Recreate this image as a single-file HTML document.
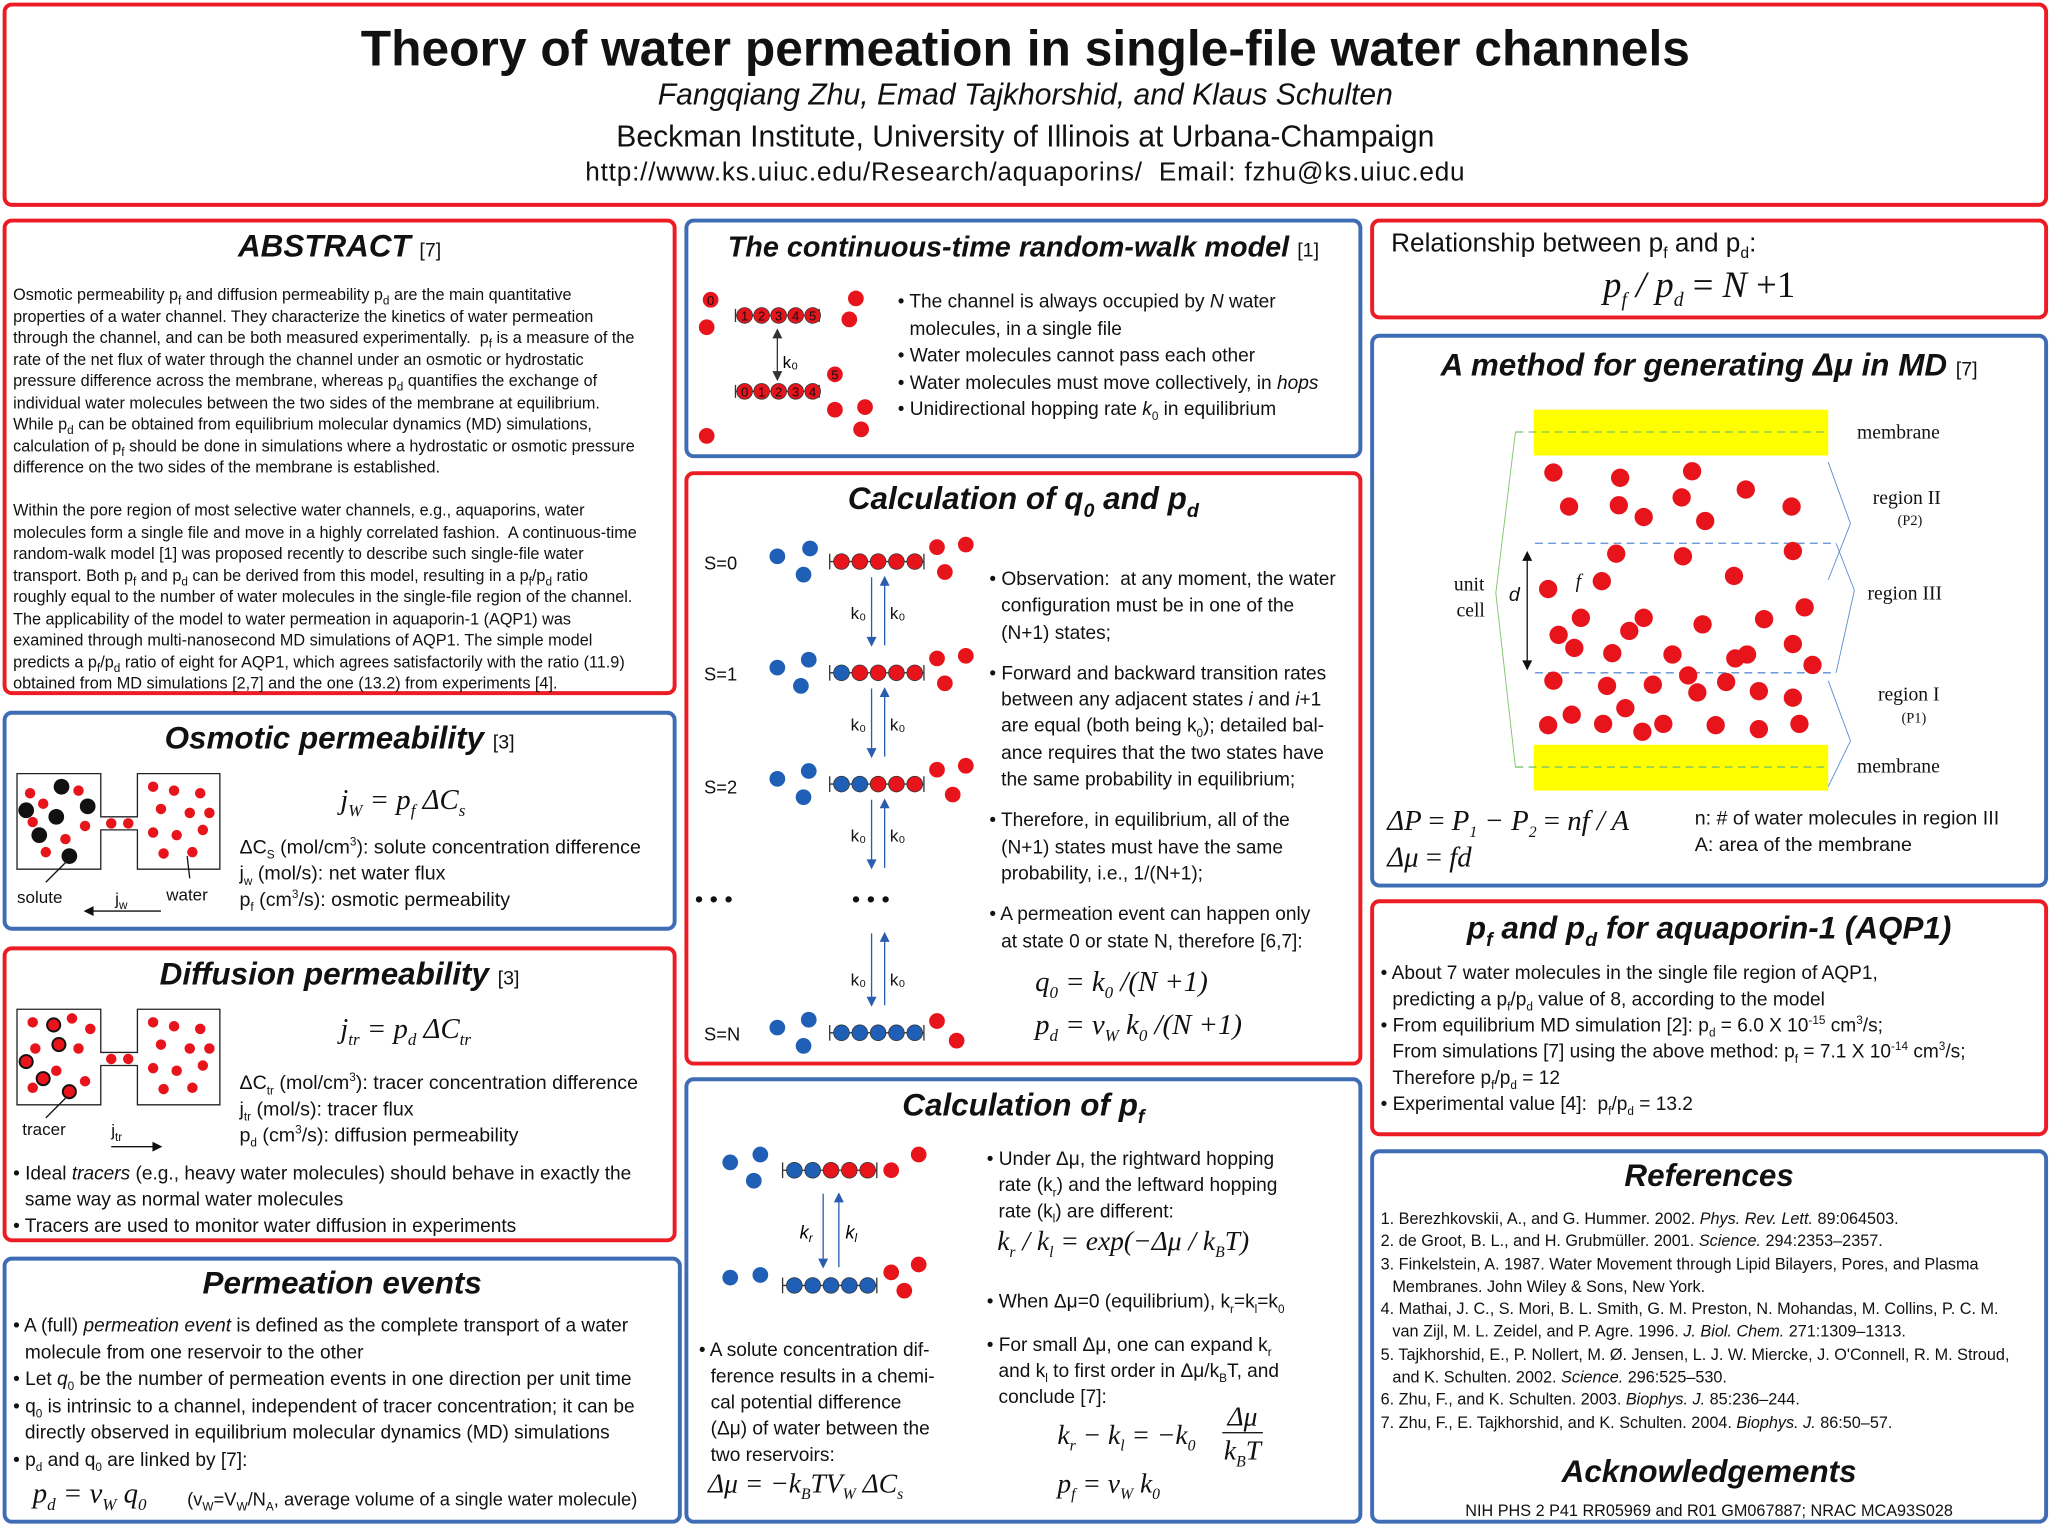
<!DOCTYPE html>
<html><head><meta charset="utf-8"><style>
html,body{margin:0;padding:0;background:#fff;width:2052px;height:1525px;overflow:hidden}
#w{position:absolute;left:0;top:0;width:1568px;height:1165px;transform:scale(1.30867,1.309);transform-origin:0 0;font-family:"Liberation Sans",sans-serif;color:#111}
.p{position:absolute;border:3.5px solid #ec1c24;border-radius:7px;box-sizing:border-box;background:#fff}
.b{border-color:#3f6db5}
.h{position:absolute;left:0;right:0;text-align:center;font-weight:bold;font-style:italic;font-size:24px;white-space:nowrap}
.h small{font-weight:normal;font-style:normal;font-size:15px}
.t{position:absolute;font-size:15px;line-height:20px;white-space:nowrap}
.i{padding-left:9px}
.m{font-family:"Liberation Serif",serif;font-style:italic}
svg{position:absolute;left:0;top:0;overflow:visible}
sub,sup{font-size:9px;line-height:0}
</style></head><body><div id="w">

<div class="p" style="left:2px;top:2px;width:1563px;height:156px">
<div style="position:absolute;left:0;right:0;top:12px;text-align:center;font-size:38px;font-weight:bold">Theory of water permeation in single-file water channels</div>
<div style="position:absolute;left:0;right:0;top:54px;text-align:center;font-size:23px;font-style:italic">Fangqiang Zhu, Emad Tajkhorshid, and Klaus Schulten</div>
<div style="position:absolute;left:0;right:0;top:86px;text-align:center;font-size:23px">Beckman Institute, University of Illinois at Urbana-Champaign</div>
<div style="position:absolute;left:0;right:0;top:116px;text-align:center;font-size:20px;letter-spacing:0.6px">http://www.ks.uiuc.edu/Research/aquaporins/&nbsp; Email: fzhu@ks.uiuc.edu</div>
</div>

<div class="p" style="left:2px;top:167px;width:515px;height:364px">
<div class="h" style="top:5px">ABSTRACT <small>[7]</small></div>
<div class="t" style="left:5px;top:47px;font-size:12.4px;line-height:16.5px">Osmotic permeability p<sub>f</sub> and diffusion permeability p<sub>d</sub> are the main quantitative<br>properties of a water channel. They characterize the kinetics of water permeation<br>through the channel, and can be both measured experimentally.&nbsp; p<sub>f</sub> is a measure of the<br>rate of the net flux of water through the channel under an osmotic or hydrostatic<br>pressure difference across the membrane, whereas p<sub>d</sub> quantifies the exchange of<br>individual water molecules between the two sides of the membrane at equilibrium.<br>While p<sub>d</sub> can be obtained from equilibrium molecular dynamics (MD) simulations,<br>calculation of p<sub>f</sub> should be done in simulations where a hydrostatic or osmotic pressure<br>difference on the two sides of the membrane is established.<br><br>Within the pore region of most selective water channels, e.g., aquaporins, water<br>molecules form a single file and move in a highly correlated fashion.&nbsp; A continuous-time<br>random-walk model [1] was proposed recently to describe such single-file water<br>transport. Both p<sub>f</sub> and p<sub>d</sub> can be derived from this model, resulting in a p<sub>f</sub>/p<sub>d</sub> ratio<br>roughly equal to the number of water molecules in the single-file region of the channel.<br>The applicability of the model to water permeation in aquaporin-1 (AQP1) was<br>examined through multi-nanosecond MD simulations of AQP1. The simple model<br>predicts a p<sub>f</sub>/p<sub>d</sub> ratio of eight for AQP1, which agrees satisfactorily with the ratio (11.9)<br>obtained from MD simulations [2,7] and the one (13.2) from experiments [4].</div>
</div>

<div class="p b" style="left:2px;top:543px;width:515px;height:168px">
<div class="h" style="top:5px">Osmotic permeability <small>[3]</small></div>
<svg width="515" height="168"><g stroke="#222" fill="none" stroke-width="1"><path d="M8 45 H72 V78 H100 V45 H163 V118 H100 V88 H72 V118 H8 Z"/></g>
<g fill="#e8141c"><circle cx="18" cy="60" r="4"/><circle cx="28" cy="68" r="4"/><circle cx="55" cy="58" r="4"/><circle cx="20" cy="82" r="4"/><circle cx="45" cy="95" r="4"/><circle cx="60" cy="85" r="4"/><circle cx="30" cy="105" r="4"/><circle cx="80" cy="83" r="4"/><circle cx="93" cy="83" r="4"/><circle cx="112" cy="55" r="4"/><circle cx="128" cy="58" r="4"/><circle cx="148" cy="60" r="4"/><circle cx="118" cy="72" r="4"/><circle cx="140" cy="75" r="4"/><circle cx="112" cy="90" r="4"/><circle cx="130" cy="92" r="4"/><circle cx="150" cy="88" r="4"/><circle cx="120" cy="106" r="4"/><circle cx="142" cy="105" r="4"/><circle cx="155" cy="75" r="4"/></g>
<g fill="#111"><circle cx="42" cy="55" r="6"/><circle cx="15" cy="73" r="6"/><circle cx="38" cy="78" r="6"/><circle cx="62" cy="70" r="6"/><circle cx="25" cy="92" r="6"/><circle cx="48" cy="108" r="6"/></g>
<path d="M45 113 L30 128 M138 108 L140 125" stroke="#111"/><path d="M118 150 H60 M60 150 l6 -3 v6z" stroke="#111" fill="#111"/></svg>
<div class="t" style="left:8px;top:130px;font-size:13px">solute</div><div class="t" style="left:122px;top:128px;font-size:13px">water</div><div class="t" style="left:83px;top:131px;font-size:13px">j<sub>w</sub></div>
<div class="t m" style="left:255px;top:55px;font-size:22px">j<sub style="font-size:13px">W</sub> = p<sub style="font-size:13px">f</sub> ΔC<sub style="font-size:13px">s</sub></div>
<div class="t" style="left:178px;top:92px;line-height:20px">ΔC<sub>S</sub> (mol/cm<sup>3</sup>): solute concentration difference<br>j<sub>w</sub> (mol/s): net water flux<br>p<sub>f</sub> (cm<sup>3</sup>/s): osmotic permeability</div>
</div>

<div class="p" style="left:2px;top:723px;width:515px;height:226px">
<div class="h" style="top:5px">Diffusion permeability <small>[3]</small></div>
<svg width="515" height="226"><path d="M8 45 H72 V78 H100 V45 H163 V118 H100 V88 H72 V118 H8 Z" stroke="#222" fill="none"/>
<g fill="#e8141c"><circle cx="20" cy="55" r="4"/><circle cx="50" cy="52" r="4"/><circle cx="64" cy="60" r="4"/><circle cx="22" cy="75" r="4"/><circle cx="55" cy="75" r="4"/><circle cx="38" cy="92" r="4"/><circle cx="60" cy="100" r="4"/><circle cx="20" cy="105" r="4"/><circle cx="80" cy="83" r="4"/><circle cx="93" cy="83" r="4"/><circle cx="112" cy="55" r="4"/><circle cx="128" cy="58" r="4"/><circle cx="148" cy="60" r="4"/><circle cx="118" cy="72" r="4"/><circle cx="140" cy="75" r="4"/><circle cx="112" cy="90" r="4"/><circle cx="130" cy="92" r="4"/><circle cx="150" cy="88" r="4"/><circle cx="120" cy="106" r="4"/><circle cx="142" cy="105" r="4"/><circle cx="155" cy="75" r="4"/></g>
<g fill="#e8141c" stroke="#111" stroke-width="1.5"><circle cx="36" cy="57" r="5"/><circle cx="15" cy="85" r="5"/><circle cx="40" cy="72" r="5"/><circle cx="28" cy="98" r="5"/><circle cx="48" cy="108" r="5"/></g>
<path d="M45 113 L30 128" stroke="#111"/><path d="M80 150 H118 M118 150 l-6 -3 v6z" stroke="#111" fill="#111"/></svg>
<div class="t" style="left:12px;top:127px;font-size:13px">tracer</div><div class="t" style="left:80px;top:128px;font-size:13px">j<sub>tr</sub></div>
<div class="t m" style="left:255px;top:50px;font-size:22px">j<sub style="font-size:13px">tr</sub> = p<sub style="font-size:13px">d</sub> ΔC<sub style="font-size:13px">tr</sub></div>
<div class="t" style="left:178px;top:92px">ΔC<sub>tr</sub> (mol/cm<sup>3</sup>): tracer concentration difference<br>j<sub>tr</sub> (mol/s): tracer flux<br>p<sub>d</sub> (cm<sup>3</sup>/s): diffusion permeability</div>
<div class="t" style="left:5px;top:161px;font-size:14.6px">• Ideal <i>tracers</i> (e.g., heavy water molecules) should behave in exactly the<br><span class="i">same way as normal water molecules</span><br>• Tracers are used to monitor water diffusion in experiments</div>
</div>

<div class="p b" style="left:2px;top:960px;width:519px;height:204px">
<div class="h" style="top:4px">Permeation events</div>
<div class="t" style="left:5px;top:40px;line-height:20.5px;font-size:14.6px">• A (full) <i>permeation event</i> is defined as the complete transport of a water<br><span class="i">molecule from one reservoir to the other</span><br>• Let <i>q</i><sub>0</sub> be the number of permeation events in one direction per unit time<br>• q<sub>0</sub> is intrinsic to a channel, independent of tracer concentration; it can be<br><span class="i">directly observed in equilibrium molecular dynamics (MD) simulations</span><br>• p<sub>d</sub> and q<sub>0</sub> are linked by [7]:</div>
<div class="t m" style="left:20px;top:168px;font-size:22px">p<sub style="font-size:13px">d</sub> = v<sub style="font-size:13px">W</sub> q<sub style="font-size:13px">0</sub></div>
<div class="t" style="left:138px;top:172px;font-size:14px">(v<sub>W</sub>=V<sub>W</sub>/N<sub>A</sub>, average volume of a single water molecule)</div>
</div>

<div class="p b" style="left:523px;top:167px;width:518px;height:183px">
<div class="h" style="top:6px;font-size:22px">The continuous-time random-walk model <small>[1]</small></div>
<svg width="518" height="183">
<g stroke="#333" fill="none"><path d="M36 66 V76 M100 66 V76 M36 71 H100 M36 124 V134 M100 124 V134 M36 129 H100"/></g>
<g fill="#e8141c" stroke="#333" stroke-width=".6"><circle cx="43" cy="71" r="6"/><circle cx="56" cy="71" r="6"/><circle cx="69" cy="71" r="6"/><circle cx="82" cy="71" r="6"/><circle cx="95" cy="71" r="6"/><circle cx="43" cy="129" r="6"/><circle cx="56" cy="129" r="6"/><circle cx="69" cy="129" r="6"/><circle cx="82" cy="129" r="6"/><circle cx="95" cy="129" r="6"/></g>
<g fill="#e8141c"><circle cx="17" cy="59" r="6"/><circle cx="14" cy="80" r="6"/><circle cx="128" cy="58" r="6"/><circle cx="123" cy="74" r="6"/><circle cx="112" cy="143" r="6"/><circle cx="14" cy="163" r="6"/><circle cx="135" cy="141" r="6"/><circle cx="132" cy="158" r="6"/><circle cx="112" cy="116" r="6"/></g>
<g font-size="10" text-anchor="middle" fill="#111"><text x="17" y="63">0</text><text x="43" y="75">1</text><text x="56" y="75">2</text><text x="69" y="75">3</text><text x="82" y="75">4</text><text x="95" y="75">5</text><text x="43" y="133">0</text><text x="56" y="133">1</text><text x="69" y="133">2</text><text x="82" y="133">3</text><text x="95" y="133">4</text><text x="112" y="120">5</text></g>
<path d="M68 82 V120 M68 82 l-3 6 h6z M68 120 l-3 -6 h6z" stroke="#333" fill="#333"/><text x="72" y="111" font-size="13">k₀</text></svg>
<div class="t" style="left:160px;top:51px;line-height:20.5px;font-size:14.6px">• The channel is always occupied by <i>N</i> water<br><span class="i">molecules, in a single file</span><br>• Water molecules cannot pass each other<br>• Water molecules must move collectively, in <i>hops</i><br>• Unidirectional hopping rate <i>k</i><sub>0</sub> in equilibrium</div>
</div>

<div class="p" style="left:523px;top:360px;width:518px;height:454px">
<div class="h" style="top:5px">Calculation of <i>q</i><sub style="font-size:15px">0</sub> and <i>p</i><sub style="font-size:15px">d</sub></div>
<svg width="518" height="454">
<g font-size="14" fill="#111"><text x="12" y="72">S=0</text><text x="12" y="157">S=1</text><text x="12" y="243">S=2</text><text x="12" y="432">S=N</text><text x="5" y="330" font-size="18">•  •  •</text><text x="125" y="330" font-size="18">•  •  •</text></g>
<g stroke="#333" fill="none">
<path d="M108 60 V72 M180 60 V72 M108 66 H180 M108 145 V157 M180 145 V157 M108 151 H180 M108 230 V242 M180 230 V242 M108 236 H180 M108 420 V432 M180 420 V432 M108 426 H180"/></g>
<g stroke="#333" stroke-width=".6">
<g fill="#e8141c"><circle cx="117" cy="66" r="6"/><circle cx="131" cy="66" r="6"/><circle cx="145" cy="66" r="6"/><circle cx="159" cy="66" r="6"/><circle cx="173" cy="66" r="6"/>
<circle cx="131" cy="151" r="6"/><circle cx="145" cy="151" r="6"/><circle cx="159" cy="151" r="6"/><circle cx="173" cy="151" r="6"/>
<circle cx="145" cy="236" r="6"/><circle cx="159" cy="236" r="6"/><circle cx="173" cy="236" r="6"/></g>
<g fill="#1f5fb5"><circle cx="117" cy="151" r="6"/><circle cx="117" cy="236" r="6"/><circle cx="131" cy="236" r="6"/>
<circle cx="117" cy="426" r="6"/><circle cx="131" cy="426" r="6"/><circle cx="145" cy="426" r="6"/><circle cx="159" cy="426" r="6"/><circle cx="173" cy="426" r="6"/></g></g>
<g fill="#1f5fb5"><circle cx="68" cy="62" r="6"/><circle cx="93" cy="56" r="6"/><circle cx="88" cy="76" r="6"/><circle cx="68" cy="147" r="6"/><circle cx="92" cy="141" r="6"/><circle cx="86" cy="161" r="6"/><circle cx="68" cy="232" r="6"/><circle cx="92" cy="226" r="6"/><circle cx="88" cy="246" r="6"/><circle cx="68" cy="422" r="6"/><circle cx="92" cy="416" r="6"/><circle cx="88" cy="436" r="6"/></g>
<g fill="#e8141c"><circle cx="190" cy="55" r="6"/><circle cx="212" cy="53" r="6"/><circle cx="196" cy="74" r="6"/><circle cx="190" cy="140" r="6"/><circle cx="212" cy="138" r="6"/><circle cx="196" cy="159" r="6"/><circle cx="190" cy="225" r="6"/><circle cx="212" cy="222" r="6"/><circle cx="202" cy="244" r="6"/><circle cx="190" cy="417" r="6"/><circle cx="205" cy="432" r="6"/></g>
<g stroke="#2a5db0" fill="#2a5db0"><path d="M140 78 V130 M140 130 l-3 -6 h6z M150 78 V130 M150 78 l-3 6 h6z M140 163 V215 M140 215 l-3 -6 h6z M150 163 V215 M150 163 l-3 6 h6z M140 248 V300 M140 300 l-3 -6 h6z M150 248 V300 M150 248 l-3 6 h6z M140 350 V405 M140 405 l-3 -6 h6z M150 350 V405 M150 350 l-3 6 h6z"/></g>
<g font-size="13" fill="#111"><text x="124" y="110">k₀</text><text x="154" y="110">k₀</text><text x="124" y="195">k₀</text><text x="154" y="195">k₀</text><text x="124" y="280">k₀</text><text x="154" y="280">k₀</text><text x="124" y="390">k₀</text><text x="154" y="390">k₀</text></g>
</svg>
<div class="t" style="left:230px;top:70px;line-height:20.3px;font-size:14.6px">• Observation:&nbsp; at any moment, the water<br><span class="i">configuration must be in one of the</span><br><span class="i">(N+1) states;</span><div style="height:11px"></div>• Forward and backward transition rates<br><span class="i">between any adjacent states <i>i</i> and <i>i</i>+1</span><br><span class="i">are equal (both being k<sub>0</sub>); detailed bal-</span><br><span class="i">ance requires that the two states have</span><br><span class="i">the same probability in equilibrium;</span><div style="height:11px"></div>• Therefore, in equilibrium, all of the<br><span class="i">(N+1) states must have the same</span><br><span class="i">probability, i.e., 1/(N+1);</span><div style="height:11px"></div>• A permeation event can happen only<br><span class="i">at state 0 or state N, therefore [6,7]:</span></div>
<div class="t m" style="left:265px;top:370px;font-size:22px;line-height:33px">q<sub style="font-size:13px">0</sub> = k<sub style="font-size:13px">0</sub> /(N +1)<br>p<sub style="font-size:13px">d</sub> = v<sub style="font-size:13px">W</sub> k<sub style="font-size:13px">0</sub> /(N +1)</div>
</div>

<div class="p b" style="left:523px;top:823px;width:518px;height:341px">
<div class="h" style="top:5px">Calculation of <i>p</i><sub style="font-size:15px">f</sub></div>
<svg width="518" height="341">
<g stroke="#333" fill="none"><path d="M72 62 V74 M144 62 V74 M72 68 H144 M72 150 V162 M144 150 V162 M72 156 H144"/></g>
<g stroke="#333" stroke-width=".6"><g fill="#1f5fb5"><circle cx="81" cy="68" r="6"/><circle cx="95" cy="68" r="6"/><circle cx="81" cy="156" r="6"/><circle cx="95" cy="156" r="6"/><circle cx="109" cy="156" r="6"/><circle cx="123" cy="156" r="6"/><circle cx="137" cy="156" r="6"/></g>
<g fill="#e8141c"><circle cx="109" cy="68" r="6"/><circle cx="123" cy="68" r="6"/><circle cx="137" cy="68" r="6"/></g></g>
<g fill="#1f5fb5"><circle cx="32" cy="62" r="6"/><circle cx="55" cy="56" r="6"/><circle cx="50" cy="76" r="6"/><circle cx="32" cy="150" r="6"/><circle cx="55" cy="148" r="6"/></g>
<g fill="#e8141c"><circle cx="155" cy="68" r="6"/><circle cx="176" cy="56" r="6"/><circle cx="155" cy="146" r="6"/><circle cx="176" cy="140" r="6"/><circle cx="165" cy="160" r="6"/></g>
<g stroke="#2a5db0" fill="#2a5db0"><path d="M103 86 V142 M103 142 l-3 -6 h6z M115 86 V142 M115 86 l-3 6 h6z"/></g>
<text x="85" y="120" font-size="14" font-style="italic">k<tspan font-size="9" dy="3">r</tspan></text><text x="120" y="120" font-size="14" font-style="italic">k<tspan font-size="9" dy="3">l</tspan></text></svg>
<div class="t" style="left:8px;top:196px;line-height:20px;font-size:14.6px">• A solute concentration dif-<br><span class="i">ference results in a chemi-</span><br><span class="i">cal potential difference</span><br><span class="i">(Δμ) of water between the</span><br><span class="i">two reservoirs:</span></div>
<div class="t m" style="left:15px;top:297px;font-size:21px">Δμ = −k<sub style="font-size:12px">B</sub>TV<sub style="font-size:12px">W</sub> ΔC<sub style="font-size:12px">s</sub></div>
<div class="t" style="left:228px;top:50px;line-height:20px;font-size:14.6px">• Under Δμ, the rightward hopping<br><span class="i">rate (k<sub>r</sub>) and the leftward hopping</span><br><span class="i">rate (k<sub>l</sub>) are different:</span></div>
<div class="t m" style="left:236px;top:112px;font-size:21px">k<sub style="font-size:12px">r</sub> / k<sub style="font-size:12px">l</sub> = exp(−Δμ / k<sub style="font-size:12px">B</sub>T)</div>
<div class="t" style="left:228px;top:159px;line-height:20px;font-size:14.6px">• When Δμ=0 (equilibrium), k<sub>r</sub>=k<sub>l</sub>=k<sub>0</sub><div style="height:13px"></div>• For small Δμ, one can expand k<sub>r</sub><br><span class="i">and k<sub>l</sub> to first order in Δμ/k<sub>B</sub>T, and</span><br><span class="i">conclude [7]:</span></div>
<div class="t m" style="left:282px;top:260px;font-size:21px">k<sub style="font-size:12px">r</sub> − k<sub style="font-size:12px">l</sub> = −k<sub style="font-size:12px">0</sub></div>
<div class="t m" style="left:408px;top:243px;font-size:21px;text-align:center;line-height:26px"><span style="border-bottom:1px solid #111;padding:0 4px">Δμ</span><br>k<sub style="font-size:12px">B</sub>T</div>
<div class="t m" style="left:282px;top:297px;font-size:21px">p<sub style="font-size:12px">f</sub> = v<sub style="font-size:12px">W</sub> k<sub style="font-size:12px">0</sub></div>
</div>

<div class="p" style="left:1047px;top:167px;width:518px;height:77px">
<div class="t" style="left:13px;top:6px;font-size:20px">Relationship between p<sub style="font-size:12px">f</sub> and p<sub style="font-size:12px">d</sub>:</div>
<div class="t m" style="left:175px;top:32px;font-size:28px;line-height:34px">p<sub style="font-size:15px">f</sub> / p<sub style="font-size:15px">d</sub> <span style="font-style:normal">= </span>N <span style="font-style:normal">+1</span></div>
</div>

<div class="p b" style="left:1047px;top:255px;width:518px;height:423px">
<div class="h" style="top:8px">A method for generating Δμ in MD <small>[7]</small></div>
<svg width="518" height="423" style="left:-1047px;top:-255px">
<rect x="1169" y="310" width="225" height="35" fill="#ffff00"/><rect x="1169" y="566" width="225" height="35" fill="#ffff00"/>
<path d="M1155 327 H1394 M1155 583 H1394" stroke="#7cc36b" stroke-dasharray="6 4"/>
<path d="M1155 327 L1140 450 L1155 583" stroke="#7cc36b" fill="none" stroke-width=".7"/>
<path d="M1170 412 H1400 M1170 511 H1400" stroke="#5b8fd0" stroke-dasharray="6 4"/>
<path d="M1394 350 L1411 397 L1394 440 M1400 412 L1414 448 L1400 511 M1394 517 L1411 563 L1394 598" stroke="#5b8fd0" fill="none" stroke-width=".7"/>
<path d="M1164 421 V506 M1164 419 l-3 6 h6z M1164 508 l-3 -6 h6z" stroke="#111" fill="#111"/>
<g fill="#e8141c"><circle cx="1184" cy="358" r="7"/><circle cx="1235" cy="362" r="7"/><circle cx="1290" cy="357" r="7"/><circle cx="1331" cy="371" r="7"/><circle cx="1282" cy="377" r="7"/><circle cx="1196" cy="384" r="7"/><circle cx="1234" cy="383" r="7"/><circle cx="1253" cy="392" r="7"/><circle cx="1300" cy="395" r="7"/><circle cx="1366" cy="384" r="7"/>
<circle cx="1232" cy="420" r="7"/><circle cx="1283" cy="422" r="7"/><circle cx="1367" cy="418" r="7"/><circle cx="1221" cy="441" r="7"/><circle cx="1322" cy="437" r="7"/><circle cx="1180" cy="447" r="7"/><circle cx="1205" cy="469" r="7"/><circle cx="1188" cy="482" r="7"/><circle cx="1242" cy="479" r="7"/><circle cx="1253" cy="469" r="7"/><circle cx="1275" cy="497" r="7"/><circle cx="1298" cy="474" r="7"/><circle cx="1345" cy="470" r="7"/><circle cx="1376" cy="461" r="7"/><circle cx="1200" cy="492" r="7"/><circle cx="1367" cy="489" r="7"/><circle cx="1332" cy="497" r="7"/><circle cx="1229" cy="496" r="7"/>
<circle cx="1184" cy="517" r="7"/><circle cx="1225" cy="521" r="7"/><circle cx="1260" cy="520" r="7"/><circle cx="1294" cy="526" r="7"/><circle cx="1316" cy="518" r="7"/><circle cx="1341" cy="525" r="7"/><circle cx="1367" cy="530" r="7"/><circle cx="1198" cy="543" r="7"/><circle cx="1239" cy="538" r="7"/><circle cx="1287" cy="513" r="7"/><circle cx="1323" cy="500" r="7"/><circle cx="1382" cy="505" r="7"/><circle cx="1268" cy="550" r="7"/><circle cx="1180" cy="551" r="7"/><circle cx="1222" cy="550" r="7"/><circle cx="1252" cy="556" r="7"/><circle cx="1308" cy="551" r="7"/><circle cx="1341" cy="554" r="7"/><circle cx="1372" cy="550" r="7"/></g>
<g font-family="Liberation Serif,serif" font-size="15" fill="#111"><text x="1416" y="332">membrane</text><text x="1416" y="587">membrane</text><text x="1428" y="382">region II</text><text x="1447" y="398" font-size="11">(P2)</text><text x="1424" y="455">region III</text><text x="1432" y="532">region I</text><text x="1450" y="549" font-size="11">(P1)</text><text x="1108" y="448">unit</text><text x="1110" y="468">cell</text><text x="1150" y="456" font-style="italic" font-family="Liberation Sans">d</text><text x="1201" y="446" font-style="italic">f</text></g></svg>
<div class="t m" style="left:10px;top:355px;font-size:22px;line-height:28px">ΔP <span style="font-style:normal">=</span> P<sub style="font-size:12px">1</sub> − P<sub style="font-size:12px">2</sub> <span style="font-style:normal">=</span> nf / A<br>Δμ <span style="font-style:normal">=</span> fd</div>
<div class="t" style="left:245px;top:358px;line-height:20px">n: # of water molecules in region III<br>A: area of the membrane</div>
</div>

<div class="p" style="left:1047px;top:687px;width:518px;height:181px">
<div class="h" style="top:6px"><i>p</i><sub style="font-size:15px">f</sub> and <i>p</i><sub style="font-size:15px">d</sub> for aquaporin-1 (AQP1)</div>
<div class="t" style="left:5px;top:44px;line-height:20px;font-size:14.6px">• About 7 water molecules in the single file region of AQP1,<br><span class="i">predicting a p<sub>f</sub>/p<sub>d</sub> value of 8, according to the model</span><br>• From equilibrium MD simulation [2]: p<sub>d</sub> = 6.0 X 10<sup>-15</sup> cm<sup>3</sup>/s;<br><span class="i">From simulations [7] using the above method: p<sub>f</sub> = 7.1 X 10<sup>-14</sup> cm<sup>3</sup>/s;</span><br><span class="i">Therefore p<sub>f</sub>/p<sub>d</sub> = 12</span><br>• Experimental value [4]: &nbsp;p<sub>f</sub>/p<sub>d</sub> = 13.2</div>
</div>

<div class="p b" style="left:1047px;top:878px;width:518px;height:286px">
<div class="h" style="top:4px;font-style:italic">References</div>
<div class="t" style="left:5px;top:42px;font-size:12.4px;line-height:17.3px">1. Berezhkovskii, A., and G. Hummer. 2002. <i>Phys. Rev. Lett.</i> 89:064503.<br>2. de Groot, B. L., and H. Grubmüller. 2001. <i>Science.</i> 294:2353–2357.<br>3. Finkelstein, A. 1987. Water Movement through Lipid Bilayers, Pores, and Plasma<br><span class="i">Membranes. John Wiley &amp; Sons, New York.</span><br>4. Mathai, J. C., S. Mori, B. L. Smith, G. M. Preston, N. Mohandas, M. Collins, P. C. M.<br><span class="i">van Zijl, M. L. Zeidel, and P. Agre. 1996. <i>J. Biol. Chem.</i> 271:1309–1313.</span><br>5. Tajkhorshid, E., P. Nollert, M. Ø. Jensen, L. J. W. Miercke, J. O'Connell, R. M. Stroud,<br><span class="i">and K. Schulten. 2002. <i>Science.</i> 296:525–530.</span><br>6. Zhu, F., and K. Schulten. 2003. <i>Biophys. J.</i> 85:236–244.<br>7. Zhu, F., E. Tajkhorshid, and K. Schulten. 2004. <i>Biophys. J.</i> 86:50–57.</div>
<div class="h" style="top:230px">Acknowledgements</div>
<div class="t" style="left:0;right:0;top:263px;text-align:center;font-size:12.4px">NIH PHS 2 P41 RR05969 and R01 GM067887; NRAC MCA93S028</div>
</div>

</div></body></html>
